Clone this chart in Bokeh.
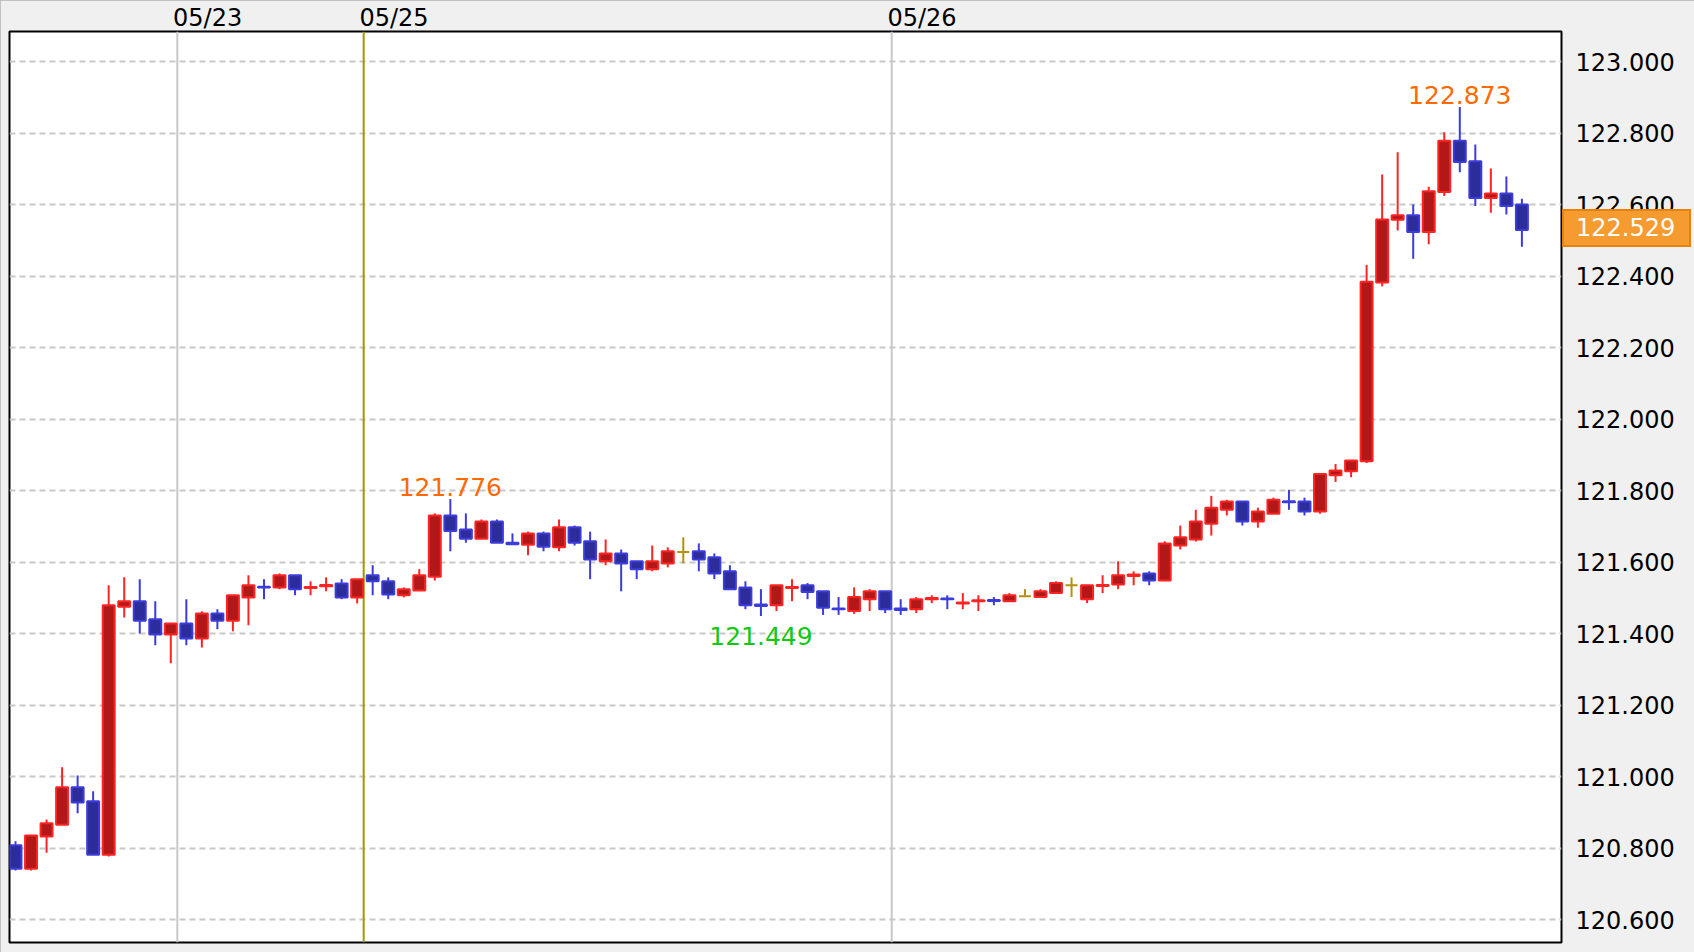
from bokeh.plotting import figure
from bokeh.models import (Range1d, FixedTicker, NumeralTickFormatter, Span, Div,
                          ColumnDataSource, CustomJSTickFormatter)
from bokeh.layouts import column
from bokeh.embed import file_html
from bokeh.resources import INLINE
from bokeh.core.properties import value

# ---------------- data ----------------
opens = [120.808, 120.742, 120.832, 120.865, 120.970, 120.931, 120.781, 121.475, 121.490, 121.440,
         121.397, 121.428, 121.386, 121.456, 121.436, 121.501, 121.531, 121.529, 121.563, 121.527,
         121.532, 121.540, 121.501, 121.563, 121.546, 121.507, 121.520, 121.559, 121.730, 121.691,
         121.665, 121.713, 121.654, 121.648, 121.680, 121.641, 121.697, 121.658, 121.602, 121.624,
         121.602, 121.580, 121.596, 121.628, 121.630, 121.613, 121.574, 121.529, 121.481, 121.479,
         121.527, 121.535, 121.518, 121.470, 121.463, 121.496, 121.518, 121.470, 121.468, 121.496,
         121.498, 121.484, 121.490, 121.494, 121.490, 121.504, 121.502, 121.513, 121.535, 121.496,
         121.533, 121.537, 121.561, 121.568, 121.548, 121.646, 121.663, 121.707, 121.746, 121.769,
         121.713, 121.735, 121.770, 121.769, 121.741, 121.843, 121.854, 121.882, 122.382, 122.557,
         122.570, 122.523, 122.635, 122.778, 122.721, 122.618, 122.631, 122.600]
highs = [120.819, 120.835, 120.880, 121.026, 121.003, 120.959, 121.535, 121.557, 121.552, 121.490,
         121.428, 121.496, 121.462, 121.468, 121.507, 121.563, 121.552, 121.568, 121.563, 121.546,
         121.557, 121.552, 121.552, 121.591, 121.557, 121.529, 121.580, 121.736, 121.776, 121.736,
         121.719, 121.719, 121.680, 121.685, 121.685, 121.719, 121.702, 121.685, 121.663, 121.635,
         121.602, 121.646, 121.641, 121.669, 121.652, 121.624, 121.591, 121.546, 121.524, 121.535,
         121.552, 121.541, 121.518, 121.502, 121.529, 121.524, 121.518, 121.496, 121.502, 121.507,
         121.507, 121.513, 121.507, 121.502, 121.513, 121.524, 121.524, 121.546, 121.557, 121.535,
         121.563, 121.602, 121.574, 121.574, 121.658, 121.702, 121.746, 121.785, 121.774, 121.769,
         121.752, 121.780, 121.802, 121.780, 121.846, 121.874, 121.884, 122.431, 122.684, 122.746,
         122.600, 122.650, 122.802, 122.873, 122.768, 122.701, 122.678, 122.616]
lows = [120.737, 120.737, 120.787, 120.865, 120.897, 120.781, 120.776, 121.445, 121.400, 121.367,
        121.317, 121.367, 121.361, 121.412, 121.406, 121.423, 121.496, 121.524, 121.507, 121.507,
        121.518, 121.496, 121.484, 121.507, 121.496, 121.501, 121.520, 121.548, 121.630, 121.654,
        121.665, 121.654, 121.648, 121.619, 121.630, 121.630, 121.646, 121.552, 121.591, 121.518,
        121.552, 121.574, 121.585, 121.596, 121.574, 121.552, 121.524, 121.468, 121.449, 121.463,
        121.490, 121.496, 121.452, 121.452, 121.455, 121.463, 121.457, 121.452, 121.457, 121.485,
        121.468, 121.468, 121.463, 121.479, 121.490, 121.504, 121.502, 121.513, 121.502, 121.485,
        121.513, 121.524, 121.535, 121.535, 121.548, 121.635, 121.657, 121.674, 121.730, 121.702,
        121.696, 121.735, 121.746, 121.730, 121.735, 121.824, 121.837, 121.877, 122.371, 122.527,
        122.448, 122.489, 122.624, 122.690, 122.596, 122.577, 122.572, 122.482]
closes = [120.742, 120.835, 120.869, 120.970, 120.927, 120.781, 121.479, 121.490, 121.436, 121.397,
          121.428, 121.386, 121.456, 121.436, 121.507, 121.535, 121.529, 121.563, 121.524, 121.530,
          121.536, 121.501, 121.552, 121.546, 121.509, 121.524, 121.563, 121.730, 121.687, 121.665,
          121.713, 121.654, 121.650, 121.680, 121.643, 121.697, 121.654, 121.607, 121.624, 121.596,
          121.580, 121.602, 121.630, 121.628, 121.607, 121.568, 121.524, 121.479, 121.477, 121.535,
          121.530, 121.516, 121.472, 121.468, 121.502, 121.518, 121.468, 121.466, 121.496, 121.499,
          121.496, 121.487, 121.493, 121.491, 121.507, 121.504, 121.518, 121.541, 121.535, 121.535,
          121.536, 121.563, 121.565, 121.548, 121.652, 121.669, 121.713, 121.752, 121.769, 121.713,
          121.741, 121.774, 121.767, 121.741, 121.846, 121.856, 121.884, 122.384, 122.558, 122.570,
          122.523, 122.637, 122.778, 122.719, 122.618, 122.631, 122.596, 122.529]

day_starts = [11, 23, 57]                    # first candle of each new day
day_labels = ["05/23", "05/25", "05/26"]
week_start_label = "05/25"
y_ticks = [120.6, 120.8, 121.0, 121.2, 121.4, 121.6, 121.8, 122.0, 122.2, 122.4, 122.6, 122.8, 123.0]
mark_high_idx = [28, 93]                     # annotated local highs
mark_low_idx = [48]                          # annotated local low
last_price = closes[-1]

# ---------------- styles ----------------
UP_EDGE, UP_FILL = "#FF2424", "#B31818"
DN_EDGE, DN_FILL = "#3C3CDC", "#2C2C9A"
EQ_COL = "#B4900C"
FONT = "DejaVu Sans"

W, H = 1694, 952
FL, FR, FT, FB = 9, 1561, 31, 942       # frame edges in page px
PX_UNIT = 15.53
X0 = 15                                 # page x of candle 0
x_start = (FL - X0) / PX_UNIT
x_end = (FR - X0) / PX_UNIT
PPU = 357.5                             # px per price unit
y_end = 123.0 + (61 - FT) / PPU
y_start = 120.6 - (FB - 919) / PPU

p = figure(width=W, height=H, output_backend="svg", toolbar_location=None,
           x_axis_location="above", y_axis_location="right",
           x_range=Range1d(x_start, x_end), y_range=Range1d(y_start, y_end),
           min_border_left=FL, min_border_right=W - FR, min_border_top=FT, min_border_bottom=H - FB,
           background_fill_color="white", border_fill_color="#F0F0F0",
           outline_line_color="black", outline_line_width=2,
           styles={"outline": "2px solid #B4B4B4", "outline-offset": "-2px"})

# y axis (right)
yax = p.yaxis[0]
yax.ticker = FixedTicker(ticks=y_ticks)
yax.formatter = NumeralTickFormatter(format="0.000")
yax.axis_line_color = None
yax.major_tick_line_color = None
yax.minor_tick_line_color = None
yax.major_tick_out = 0
yax.major_tick_in = 0
yax.minor_tick_out = 0
yax.minor_tick_in = 0
yax.major_label_standoff = 14
yax.major_label_text_font = FONT
yax.major_label_text_font_size = "24px"
yax.major_label_text_color = "black"

# x axis (above): date labels next to the day separators
label_pos = [d - 0.58 + 1.95 for d in day_starts]
xax = p.xaxis[0]
xax.ticker = FixedTicker(ticks=label_pos)
xax.formatter = CustomJSTickFormatter(args=dict(tpos=label_pos, labs=day_labels), code="""
    let best = 0, bd = 1e9;
    for (let i = 0; i < tpos.length; i++) {
        const d = Math.abs(tpos[i] - tick);
        if (d < bd) { bd = d; best = i; }
    }
    return labs[best];
""")
xax.axis_line_color = None
xax.major_tick_line_color = None
xax.minor_tick_line_color = None
xax.major_tick_out = 0
xax.major_tick_in = 0
xax.minor_tick_out = 0
xax.minor_tick_in = 0
xax.major_label_standoff = 0
xax.major_label_text_font = FONT
xax.major_label_text_font_size = "24px"
xax.major_label_text_color = "black"

p.xgrid.grid_line_color = None
p.ygrid.ticker = FixedTicker(ticks=y_ticks)
p.ygrid.grid_line_color = "#C8C8C8"
p.ygrid.grid_line_width = 2
p.ygrid.grid_line_dash = "6 4"

# day separators
for d, lab in zip(day_starts, day_labels):
    col = "#A09A00" if lab == week_start_label else "#C8C8C8"
    p.add_layout(Span(location=d - 0.58, dimension="height", line_color=col,
                      line_width=2, level="underlay"))

# candles
idx = list(range(len(opens)))
edge, fill, top, bot = [], [], [], []
for o, c in zip(opens, closes):
    if c > o:
        edge.append(UP_EDGE); fill.append(UP_FILL)
    elif c < o:
        edge.append(DN_EDGE); fill.append(DN_FILL)
    else:
        edge.append(EQ_COL); fill.append(EQ_COL)
    top.append(max(o, c)); bot.append(min(o, c))

src = ColumnDataSource(dict(x=idx, h=highs, l=lows, top=top, bot=bot, edge=edge, fill=fill))
p.segment(x0="x", y0="l", x1="x", y1="h", source=src, line_color="edge", line_width=2)
p.vbar(x="x", width=0.77, top="top", bottom="bot", source=src,
       fill_color="fill", line_color="edge", line_width=2)

# extreme annotations
hsrc = ColumnDataSource(dict(x=mark_high_idx, y=[highs[i] for i in mark_high_idx],
                             t=["%.3f" % highs[i] for i in mark_high_idx]))
p.text(x="x", y="y", text="t", source=hsrc, text_align="center", text_baseline="alphabetic",
       y_offset=-12, text_color="#FF6A00", text_font=value(FONT), text_font_size="25px")
lsrc = ColumnDataSource(dict(x=mark_low_idx, y=[lows[i] for i in mark_low_idx],
                             t=["%.3f" % lows[i] for i in mark_low_idx]))
p.text(x="x", y="y", text="t", source=lsrc, text_align="center", text_baseline="top",
       y_offset=11, text_color="#14C814", text_font=value(FONT), text_font_size="25px")

# last price tag: a small box laid over the right axis area, positioned from the y scale
TAG_W, TAG_H = 129, 38
tag_center = FT + (y_end - last_price) * PPU
tag = Div(text="%.3f" % last_price, width=TAG_W, height=TAG_H, margin=0,
          styles={"position": "absolute", "left": "%dpx" % (FR + 1),
                  "top": "%.1fpx" % (tag_center - TAG_H / 2 - 1),
                  "background-color": "#F59B30", "border": "2px solid #E8800C",
                  "box-sizing": "border-box", "color": "white",
                  "font-family": FONT, "font-size": "24px", "line-height": "34px",
                  "padding-left": "12px", "overflow": "hidden", "white-space": "nowrap"})

layout = column(p, tag, spacing=0)
open("out.html", "w").write(file_html(layout, INLINE))
